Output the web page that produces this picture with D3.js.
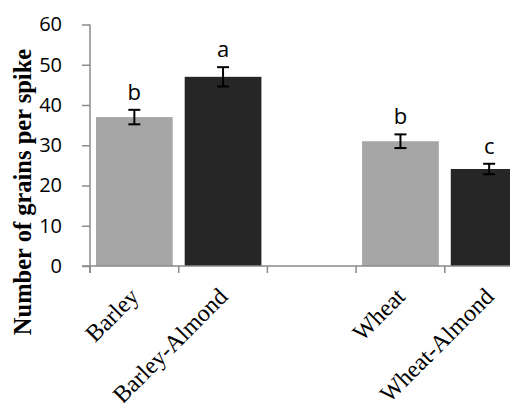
<!DOCTYPE html>
<html>
<head>
<meta charset="utf-8">
<script src="https://cdn.jsdelivr.net/npm/d3@7"></script>
<style>
  html, body { margin: 0; padding: 0; background: #fff; }
  svg { display: block; }
</style>
</head>
<body>
<svg id="chart" width="510" height="403"></svg>
<script>
// Treatments along the x axis (the empty slot separates the two crops)
const categories = ["Barley", "Barley-Almond", "", "Wheat", "Wheat-Almond"];
// Mean number of grains per spike and its standard error
const means = [37, 47, null, 31, 24.1];
const errors = [1.8, 2.4, null, 1.7, 1.3];
// Significance letters shown above each bar
const letters = ["b", "a", "", "b", "c"];
// Bar shade: monoculture vs. intercropped with almond
const shades = ["light", "dark", null, "light", "dark"];
const yTicks = [0, 10, 20, 30, 40, 50, 60];

const colors = { light: "#a6a6a6", dark: "#262626" };
const axisColor = "#8a8a8a";

const svg = d3.select("#chart");

const plotLeft = 90, plotRight = 533.5, plotTop = 24.5, plotBottom = 266;

const y = d3.scaleLinear().domain([0, 60]).range([plotBottom, plotTop]);

// Category slots (edges give the tick positions)
const slot = d3.scaleBand().domain(categories).range([plotLeft, plotRight]);
// Bars inside each slot
const x = d3.scaleBand().domain(categories).range([plotLeft, plotRight])
  .paddingInner(0.135).paddingOuter(0.0675);

const rows = categories.map((c, i) => ({
  cat: c, mean: means[i], err: errors[i], letter: letters[i], shade: shades[i]
})).filter(d => d.mean != null);

// Bars
svg.append("g").selectAll("rect").data(rows).join("rect")
  .attr("x", d => x(d.cat))
  .attr("y", d => y(d.mean))
  .attr("width", x.bandwidth())
  .attr("height", d => y(0) - y(d.mean))
  .attr("fill", d => colors[d.shade]);

// Y axis
const yAxis = svg.append("g")
  .attr("transform", `translate(${plotLeft},0)`)
  .call(d3.axisLeft(y).tickValues(yTicks).tickSize(8).tickPadding(20).tickSizeOuter(0));
yAxis.select(".domain").attr("stroke", axisColor).attr("stroke-width", 1.5)
  .attr("d", `M0,${plotTop}V${plotBottom + 7}`);
yAxis.selectAll(".tick line").attr("stroke", axisColor).attr("stroke-width", 1.5);
yAxis.selectAll(".tick text")
  .attr("font-family", "'Open Sans', sans-serif")
  .attr("font-size", 20)
  .attr("fill", "#000");

// X axis line with ticks at slot edges
const edges = categories.map(c => slot(c)).concat([plotRight]);
const xg = svg.append("g");
xg.append("line")
  .attr("x1", plotLeft - 8).attr("x2", plotRight)
  .attr("y1", y(0)).attr("y2", y(0))
  .attr("stroke", axisColor).attr("stroke-width", 1.5);
xg.selectAll("line.tk").data(edges).join("line")
  .attr("class", "tk")
  .attr("x1", d => d).attr("x2", d => d)
  .attr("y1", y(0)).attr("y2", y(0) + 7)
  .attr("stroke", axisColor).attr("stroke-width", 1.5);

// X labels, rotated
xg.selectAll("text").data(categories.filter(c => c !== "")).join("text")
  .attr("transform", d => `translate(${slot(d) + slot.bandwidth() / 2 + 6},${y(0) + 32}) rotate(-45)`)
  .attr("text-anchor", "end")
  .attr("font-family", "'Liberation Serif', 'Times New Roman', serif")
  .attr("font-size", 24)
  .attr("fill", "#000")
  .text(d => d);

// Error bars
const cap = 6;
const eb = svg.append("g").attr("stroke", "#000").attr("stroke-width", 2);
rows.forEach(d => {
  const cx = x(d.cat) + x.bandwidth() / 2;
  const y1 = y(d.mean + d.err), y2 = y(d.mean - d.err);
  eb.append("line").attr("x1", cx).attr("x2", cx).attr("y1", y1).attr("y2", y2);
  eb.append("line").attr("x1", cx - cap).attr("x2", cx + cap).attr("y1", y1).attr("y2", y1);
  eb.append("line").attr("x1", cx - cap).attr("x2", cx + cap).attr("y1", y2).attr("y2", y2);
});

// Significance letters
svg.append("g").selectAll("text").data(rows).join("text")
  .attr("x", d => x(d.cat) + x.bandwidth() / 2)
  .attr("y", d => y(d.mean + d.err) - 10)
  .attr("text-anchor", "middle")
  .attr("font-family", "'Open Sans', sans-serif")
  .attr("font-size", 22)
  .attr("fill", "#000")
  .text(d => d.letter);

// Y axis title
svg.append("text")
  .attr("transform", `translate(31,192) rotate(-90)`)
  .attr("text-anchor", "middle")
  .attr("font-family", "'Liberation Serif', 'Times New Roman', serif")
  .attr("font-weight", "bold")
  .attr("font-size", 24.5)
  .attr("fill", "#000")
  .text("Number of grains per spike");
</script>
</body>
</html>
